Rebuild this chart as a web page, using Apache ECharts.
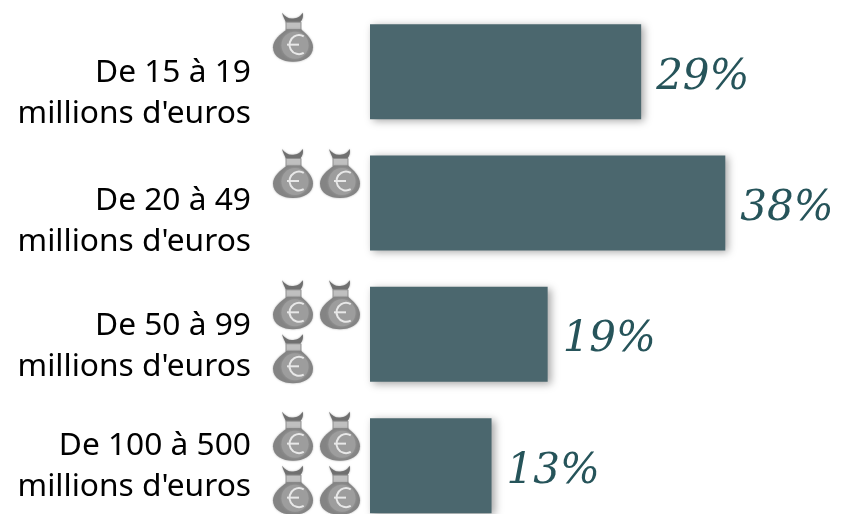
<!DOCTYPE html>
<html>
<head>
<meta charset="utf-8">
<script src="https://cdn.jsdelivr.net/npm/echarts@6/dist/echarts.min.js"></script>
<style>
  html, body { margin: 0; padding: 0; background: #fff; }
  #chart { width: 841px; height: 514px; }
</style>
</head>
<body>
<div id="chart"></div>
<script>
const categories = [
  "De 15 à 19\nmillions d'euros",
  "De 20 à 49\nmillions d'euros",
  "De 50 à 99\nmillions d'euros",
  "De 100 à 500\nmillions d'euros"
];
const shares = [29, 38, 19, 13];
const bagCounts = [1, 2, 3, 4];

// decalage vertical du texte par rapport au centre de la barre
const labelShift = [21.5, 18.5, 12, 0.5];
const labelGap = 119;
// emplacements des sacs : 2 par ligne
const bagCols = [-77, -30];
const bagRows = [-29.5, 24.5];
const firstRowLift = -5;

const EARS = "M-11,-24.5 C-8,-21 -5,-19 -1,-19 C3,-19 7,-20 10,-24.5 C11,-20 9,-17 7,-15 L-7,-15 C-8,-18 -10,-21 -11,-24.5 Z";
const BODY = "M-6,-8 C-13,-3 -20,3 -20,10 C-20,20 -10,24.5 0,24.5 C10,24.5 20,20 20,10 C20,3 14,-3 8,-8 Z";

function bag(cx, cy) {
  const soft = { shadowBlur: 2, shadowColor: "rgba(110,110,110,0.6)" };
  const euro = { stroke: "#e8e8e8", lineWidth: 2, fill: null };
  return {
    type: "group",
    x: cx,
    y: cy,
    children: [
      { type: "path", shape: { pathData: EARS, x: -11, y: -24.5, width: 21, height: 10, layout: "cover" }, style: { fill: "#707070", ...soft } },
      { type: "rect", shape: { x: -7, y: -15, width: 15, height: 8 }, style: { fill: "#c0c0c0", stroke: "#8f8f8f", lineWidth: 1 } },
      { type: "path", shape: { pathData: BODY, x: -20, y: -8, width: 40, height: 32.5, layout: "cover" }, style: { fill: "#848484", ...soft } },
      { type: "circle", shape: { cx: 2, cy: 8, r: 13.5 }, style: { fill: "#9d9d9d", shadowBlur: 3, shadowColor: "#9d9d9d" } },
      { type: "arc", shape: { cx: 6, cy: 7.5, r: 9.5, startAngle: Math.PI / 3, endAngle: Math.PI * 5 / 3, clockwise: true }, style: euro },
      { type: "line", shape: { x1: -6, y1: 7.5, x2: 6, y2: 7.5 }, style: euro }
    ]
  };
}

const chart = echarts.init(document.getElementById("chart"), null, { renderer: "canvas" });
chart.setOption({
  animation: false,
  backgroundColor: "#fff",
  grid: { left: 370, top: 6, width: 467.5, height: 525.3, outerBoundsMode: "none" },
  xAxis: { type: "value", min: 0, max: 50, show: false },
  yAxis: {
    type: "category",
    inverse: true,
    data: categories,
    axisLine: { show: false },
    axisTick: { show: false },
    splitLine: { show: false },
    axisLabel: { show: false }
  },
  series: [
    {
      type: "bar",
      data: shares,
      barWidth: 95,
      itemStyle: {
        color: "#4b676e",
        shadowBlur: 8,
        shadowOffsetX: 3,
        shadowOffsetY: 2,
        shadowColor: "rgba(0,0,0,0.35)"
      },
      label: {
        show: true,
        position: "right",
        distance: 15,
        offset: [0, 6],
        formatter: "{c}%",
        color: "#26545a",
        fontFamily: "DejaVu Serif",
        fontStyle: "italic",
        fontSize: 42
      }
    },
    {
      type: "custom",
      clip: false,
      silent: true,
      data: bagCounts.map((n, i) => [0, i, n]),
      encode: { x: 0, y: 1 },
      renderItem(params, api) {
        const row = api.value(1);
        const [x0, yc] = api.coord([0, row]);
        const lift = row === 0 ? firstRowLift : 0;
        const children = [{
          type: "text",
          x: x0 - labelGap,
          y: yc + labelShift[row],
          style: {
            text: categories[row],
            fill: "#000",
            font: "31.7px 'Noto Sans'",
            lineHeight: 41,
            align: "right",
            verticalAlign: "middle"
          }
        }];
        for (let k = 0; k < api.value(2); k++) {
          children.push(bag(x0 + bagCols[k % 2], yc + bagRows[Math.floor(k / 2)] + lift));
        }
        return { type: "group", children };
      }
    }
  ]
});
</script>
</body>
</html>
